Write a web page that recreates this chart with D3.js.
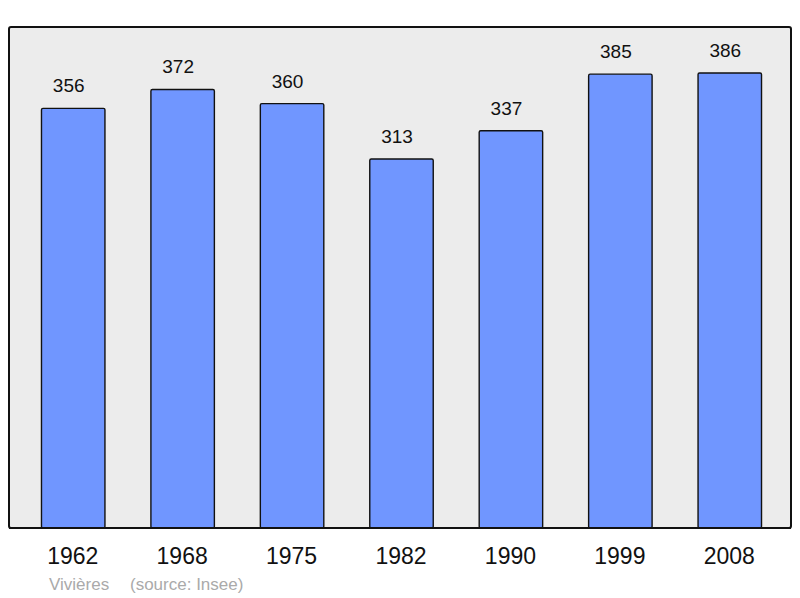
<!DOCTYPE html>
<html>
<head>
<meta charset="utf-8">
<script src="https://cdn.jsdelivr.net/npm/d3@7"></script>
<style>
    body { margin: 0; background: #fff; }
    text { font-family: "Liberation Sans", Arial, sans-serif; }
</style>
</head>
<body>
<svg id="chart" width="800" height="598"></svg>
<script>
// population by census year
var years = ["1962", "1968", "1975", "1982", "1990", "1999", "2008"];
var population = [356, 372, 360, 313, 337, 385, 386];
var commune = "Vivières";
var sourceText = "(source: Insee)";

var svg = d3.select("#chart");

var frame = {left: 9, top: 27, right: 791, bottom: 528};

svg.append("rect")
    .attr("x", frame.left).attr("y", frame.top)
    .attr("width", frame.right - frame.left).attr("height", frame.bottom - frame.top)
    .attr("rx", 2)
    .attr("fill", "#ececec").attr("stroke", "#111").attr("stroke-width", 2);

var x = d3.scaleBand().domain(years).range([18, 784]).paddingInner(0.42).paddingOuter(0.21);
var y = d3.scaleLinear().domain([0, 425]).range([frame.bottom, frame.top]);

var data = years.map(function(d, i) { return {year: d, value: population[i]}; });

svg.selectAll("rect.bar").data(data).enter().append("rect")
    .attr("class", "bar")
    .attr("x", function(d) { return x(d.year) + 0.5; })
    .attr("y", function(d) { return y(d.value); })
    .attr("width", x.bandwidth())
    .attr("height", function(d) { return frame.bottom - y(d.value); })
    .attr("rx", 1.5)
    .attr("fill", "#7096ff").attr("stroke", "#111").attr("stroke-width", 1.4);

// value labels sit a little left of the bar centre, as in the original
svg.selectAll("text.val").data(data).enter().append("text")
    .attr("class", "val")
    .attr("x", function(d) { return x(d.year) + x.bandwidth() / 2 - 4; })
    .attr("y", function(d) { return y(d.value) - 16; })
    .attr("text-anchor", "middle")
    .attr("font-size", 19).attr("fill", "#111")
    .text(function(d) { return d.value; });

// redraw the frame edge over the bar bottoms
svg.append("line")
    .attr("x1", frame.left).attr("x2", frame.right)
    .attr("y1", frame.bottom).attr("y2", frame.bottom)
    .attr("stroke", "#111").attr("stroke-width", 2);

var xAxis = d3.axisBottom(x).tickSize(0).tickPadding(0);
var gx = svg.append("g").attr("transform", "translate(0," + frame.bottom + ")").call(xAxis);
gx.select(".domain").remove();
gx.selectAll("text")
    .attr("dy", null).attr("y", 36)
    .attr("font-size", 23).attr("fill", "#111")
    .style("font-family", "'Liberation Sans', Arial, sans-serif");

svg.append("text").attr("x", 49).attr("y", 590)
    .attr("font-size", 17).attr("fill", "#aaa").text(commune);
svg.append("text").attr("x", 130).attr("y", 590)
    .attr("font-size", 17).attr("fill", "#aaa").text(sourceText);
</script>
</body>
</html>
